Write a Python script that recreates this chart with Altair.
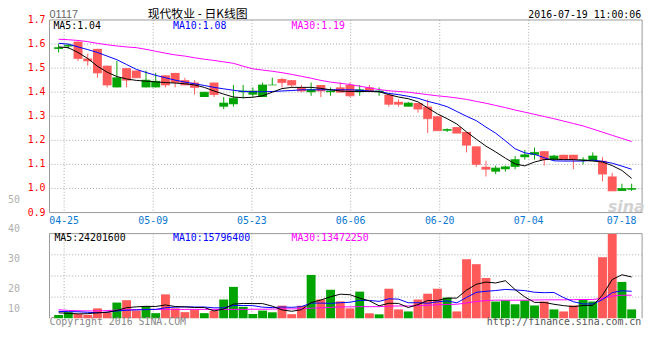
import altair as alt
import pandas as pd

# ---------------- data ----------------
day_index = list(range(60))  # 2016-04-22 ... 2016-07-19 (trading days)

open_ = [1.58, 1.59, 1.61, 1.54, 1.58, 1.51, 1.42, 1.50, 1.49, 1.42,
         1.42, 1.47, 1.48, 1.45, 1.44, 1.38, 1.44, 1.34, 1.35, 1.40,
         1.39, 1.38, 1.43, 1.455, 1.45, 1.42, 1.40, 1.43, 1.40, 1.42,
         1.43, 1.40, 1.42, 1.40, 1.39, 1.36, 1.34, 1.355, 1.34, 1.30,
         1.24, 1.255, 1.235, 1.175, 1.09, 1.07, 1.08, 1.09, 1.13, 1.14,
         1.155, 1.12, 1.14, 1.14, 1.12, 1.115, 1.115, 1.05, 0.99, 0.995]
high = [1.60, 1.60, 1.61, 1.56, 1.58, 1.51, 1.53, 1.50, 1.49, 1.49,
        1.48, 1.47, 1.48, 1.46, 1.45, 1.40, 1.44, 1.38, 1.43, 1.43,
        1.42, 1.44, 1.46, 1.46, 1.45, 1.43, 1.44, 1.43, 1.42, 1.44,
        1.44, 1.43, 1.43, 1.42, 1.39, 1.37, 1.36, 1.355, 1.37, 1.30,
        1.25, 1.255, 1.235, 1.175, 1.115, 1.095, 1.095, 1.135, 1.16, 1.17,
        1.155, 1.14, 1.14, 1.14, 1.13, 1.15, 1.13, 1.065, 1.02, 1.02]
low = [1.565, 1.58, 1.53, 1.51, 1.46, 1.42, 1.42, 1.42, 1.46, 1.42,
       1.42, 1.42, 1.42, 1.43, 1.39, 1.38, 1.38, 1.33, 1.34, 1.375,
       1.38, 1.38, 1.43, 1.42, 1.42, 1.40, 1.385, 1.38, 1.385, 1.40,
       1.38, 1.385, 1.40, 1.385, 1.34, 1.34, 1.34, 1.315, 1.23, 1.24,
       1.235, 1.23, 1.15, 1.09, 1.05, 1.06, 1.07, 1.08, 1.12, 1.12,
       1.095, 1.115, 1.12, 1.08, 1.10, 1.115, 1.03, 0.99, 0.99, 0.99]
close = [1.585, 1.595, 1.54, 1.53, 1.48, 1.43, 1.46, 1.45, 1.46, 1.45,
         1.445, 1.43, 1.44, 1.43, 1.42, 1.40, 1.39, 1.355, 1.375, 1.405,
         1.405, 1.43, 1.43, 1.44, 1.43, 1.405, 1.41, 1.405, 1.405, 1.40,
         1.385, 1.41, 1.405, 1.405, 1.35, 1.35, 1.355, 1.33, 1.29, 1.24,
         1.245, 1.23, 1.18, 1.10, 1.08, 1.085, 1.09, 1.12, 1.14, 1.15,
         1.12, 1.135, 1.12, 1.12, 1.12, 1.135, 1.06, 0.99, 1.00, 1.00]
ma5 = [1.588, 1.585, 1.565, 1.54, 1.508, 1.483, 1.465, 1.455, 1.449, 1.446,
       1.443, 1.44, 1.438, 1.435, 1.43, 1.42, 1.405, 1.392, 1.38, 1.377,
       1.379, 1.385, 1.40, 1.415, 1.42, 1.42, 1.42, 1.416, 1.41, 1.405,
       1.403, 1.403, 1.403, 1.402, 1.39, 1.38, 1.373, 1.36, 1.335, 1.31,
       1.29, 1.268, 1.235, 1.205, 1.176, 1.152, 1.126, 1.102, 1.094, 1.11,
       1.12, 1.122, 1.12, 1.12, 1.117, 1.114, 1.11, 1.095, 1.075, 1.042]
ma10 = [1.603, 1.60, 1.588, 1.577, 1.565, 1.55, 1.535, 1.515, 1.495, 1.482,
        1.47, 1.46, 1.45, 1.442, 1.435, 1.428, 1.42, 1.414, 1.408, 1.403,
        1.402, 1.402, 1.403, 1.405, 1.407, 1.41, 1.41, 1.41, 1.41, 1.41,
        1.41, 1.408, 1.405, 1.403, 1.395, 1.39, 1.383, 1.375, 1.362, 1.352,
        1.34, 1.32, 1.30, 1.282, 1.255, 1.23, 1.198, 1.165, 1.148, 1.142,
        1.128, 1.115, 1.114, 1.114, 1.114, 1.118, 1.113, 1.105, 1.093, 1.08]
ma30 = [1.62, 1.618, 1.615, 1.61, 1.603, 1.597, 1.592, 1.588, 1.585, 1.578,
        1.57, 1.562, 1.555, 1.55, 1.543, 1.537, 1.532, 1.526, 1.52, 1.508,
        1.497, 1.492, 1.487, 1.481, 1.474, 1.466, 1.458, 1.449, 1.442, 1.437,
        1.432, 1.425, 1.418, 1.411, 1.406, 1.403, 1.40, 1.395, 1.39, 1.385,
        1.381, 1.376, 1.37, 1.362, 1.354, 1.345, 1.336, 1.326, 1.317, 1.308,
        1.299, 1.29, 1.28, 1.27, 1.26, 1.247, 1.234, 1.221, 1.208, 1.195]

# volume in millions of shares
volume = [1.9, 3.6, 2.5, 2.0, 5.8, 3.5, 9.2, 10.6, 4.5, 7.0,
          3.0, 14.0, 5.8, 3.6, 5.0, 3.0, 4.3, 11.0, 18.4, 6.7,
          2.5, 4.5, 3.5, 7.4, 2.4, 7.4, 25.4, 11.0, 16.7, 9.9,
          5.8, 15.6, 2.9, 2.3, 17.3, 5.2, 4.0, 11.0, 14.4, 17.3,
          12.1, 4.0, 34.6, 31.7, 23.6, 9.8, 10.5, 8.2, 10.5, 7.5,
          9.8, 5.2, 4.0, 7.5, 11.0, 9.8, 35.8, 49.4, 21.3, 5.2]
vma5 = [3.2, 2.9, 2.6, 2.7, 3.2, 3.5, 4.6, 6.2, 6.7, 7.0,
        6.9, 7.8, 6.9, 6.7, 6.3, 6.3, 4.3, 5.4, 8.3, 8.7,
        8.6, 8.6, 7.1, 4.9, 4.1, 5.0, 9.2, 10.7, 12.6, 14.1,
        13.8, 11.8, 10.2, 7.3, 8.8, 8.7, 6.3, 8.0, 10.4, 10.4,
        11.8, 11.8, 16.5, 19.9, 21.2, 20.7, 22.0, 16.8, 12.5, 9.3,
        9.3, 8.2, 7.4, 6.8, 7.5, 7.5, 13.6, 22.7, 25.5, 24.2]
vma10 = [4.0, 3.9, 3.8, 3.5, 3.2, 3.6, 4.3, 4.7, 4.9, 5.1,
         5.2, 6.2, 6.5, 6.7, 6.6, 6.6, 6.1, 6.1, 7.5, 7.5,
         7.4, 6.5, 6.25, 6.6, 6.4, 6.8, 8.9, 8.9, 8.75, 9.1,
         9.4, 10.5, 10.45, 9.9, 11.4, 11.2, 9.1, 9.1, 8.8, 9.6,
         10.2, 9.05, 12.2, 15.2, 15.8, 16.25, 16.9, 16.6, 16.2, 15.25,
         15.0, 15.1, 12.1, 9.7, 8.4, 8.4, 10.9, 15.05, 16.1, 15.8]
vma30 = [5.0, 4.6, 4.4, 4.3, 4.3, 4.5, 4.8, 5.0, 5.1, 5.2,
         5.2, 5.2, 5.2, 5.2, 5.2, 5.2, 5.2, 5.2, 5.2, 5.2,
         5.3, 5.3, 5.4, 5.5, 5.5, 5.6, 5.9, 6.1, 6.4, 6.6,
         6.7, 6.8, 6.8, 6.8, 7.1, 7.2, 7.2, 7.4, 7.6, 7.9,
         8.1, 8.2, 9.0, 9.8, 10.4, 10.6, 10.6, 10.6, 10.6, 10.7,
         10.8, 10.8, 10.8, 10.9, 11.0, 11.0, 11.7, 13.0, 13.5, 13.5]

price_ticks = [1.7, 1.6, 1.5, 1.4, 1.3, 1.2, 1.1, 1.0, 0.9]
price_tick_labels = ["1.7", "1.6", "1.5", "1.4", "1.3", "1.2", "1.1", "1.0", "0.9"]
price_grid = [1.6, 1.5, 1.4, 1.3, 1.2, 1.1, 1.0]
vol_grid = [12.4, 24.8, 37.2]
date_grid_pos = [0.57, 9.74, 19.9, 30.07, 39.24, 48.4]
date_labels = ["04-25", "05-09", "05-23", "06-06", "06-20", "07-04", "07-18"]
date_label_pos = [0.57, 9.74, 19.9, 30.07, 39.24, 48.4, 57.97]
side_labels = ["50", "40", "30", "20", "10"]
side_label_y = [182, 212, 242.5, 272.5, 293]

# ---------------- styling ----------------
RED = "#ff5a5a"
GREEN = "#00a400"
GRID = "#aaaaaa"
FRAME = "#999999"
MONO = "DejaVu Sans Mono"
W = 600
PRICE_BOTTOM = 195
VOL_TOP = 216.3
VOL_BOTTOM = 302

df = pd.DataFrame({"i": day_index, "open": open_, "high": high, "low": low,
                   "close": close, "ma5": ma5, "ma10": ma10, "ma30": ma30,
                   "vol": volume, "vma5": vma5, "vma10": vma10, "vma30": vma30})
df["dir"] = ["up" if c >= o else "down" for o, c in zip(open_, close)]

one = pd.DataFrame({"k": [0]})  # single row for static marks

xs = alt.Scale(domain=[-0.43, 59.57], nice=False, zero=False)
ps = alt.Scale(domain=[0.9, 1.7], range=[PRICE_BOTTOM, 0], nice=False, zero=False)
vs = alt.Scale(domain=[0, 49.6], range=[VOL_BOTTOM, VOL_TOP], nice=False, zero=False)
col = alt.Color("dir:N", scale=alt.Scale(domain=["up", "down"], range=[GREEN, RED]), legend=None)

X = alt.X("i:Q", scale=xs, axis=None)
base = alt.Chart(df)

layers = []

# grid lines
pg = pd.DataFrame({"p": price_grid})
layers.append(alt.Chart(pg).mark_rule(color=GRID, strokeDash=[1, 2], strokeWidth=1).encode(
    y=alt.Y("p:Q", scale=ps, axis=None)))
vg = pd.DataFrame({"v": vol_grid})
layers.append(alt.Chart(vg).mark_rule(color=GRID, strokeDash=[1, 2], strokeWidth=1).encode(
    y=alt.Y("v:Q", scale=vs, axis=None)))
dg = pd.DataFrame({"pos": date_grid_pos})
layers.append(alt.Chart(dg).mark_rule(color=GRID, strokeDash=[1, 2], strokeWidth=1).encode(
    x=alt.X("pos:Q", scale=xs, axis=None), y=alt.value(0), y2=alt.value(PRICE_BOTTOM)))
layers.append(alt.Chart(dg).mark_rule(color=GRID, strokeDash=[1, 2], strokeWidth=1).encode(
    x=alt.X("pos:Q", scale=xs, axis=None), y=alt.value(VOL_TOP), y2=alt.value(VOL_BOTTOM)))

# frames
layers.append(alt.Chart(one).mark_rect(fillOpacity=0, stroke=FRAME, strokeWidth=1).encode(
    x=alt.value(0), x2=alt.value(W), y=alt.value(0), y2=alt.value(PRICE_BOTTOM)))
layers.append(alt.Chart(one).mark_rule(color=FRAME, strokeWidth=1).encode(
    x=alt.value(0), x2=alt.value(W), y=alt.value(VOL_TOP)))
layers.append(alt.Chart(one).mark_rule(color=FRAME, strokeWidth=1).encode(
    x=alt.value(0), y=alt.value(VOL_TOP), y2=alt.value(VOL_BOTTOM)))
layers.append(alt.Chart(one).mark_rule(color=FRAME, strokeWidth=1).encode(
    x=alt.value(W), y=alt.value(VOL_TOP), y2=alt.value(VOL_BOTTOM)))

# sina watermark
layers.append(alt.Chart(one).mark_text(text="sina", font="DejaVu Sans", fontSize=16, fontStyle="italic",
                                       fontWeight="bold", color="#d2d2d2", align="center").encode(
    x=alt.value(584), y=alt.value(189)))

# volume bars + volume MA lines
layers.append(base.mark_bar(size=9).encode(x=X, y=alt.Y("vol:Q", scale=vs, axis=None), color=col))
for fld, c in [("vma30", "#ff00ff"), ("vma10", "#0000ff"), ("vma5", "#000000")]:
    layers.append(base.mark_line(color=c, strokeWidth=1).encode(
        x=X, y=alt.Y(f"{fld}:Q", scale=vs, axis=None)))

# candles
layers.append(base.mark_rule(strokeWidth=1).encode(
    x=X, y=alt.Y("low:Q", scale=ps, axis=None), y2="high:Q", color=col))
layers.append(base.mark_bar(size=9).encode(
    x=X, y=alt.Y("open:Q", scale=ps, axis=None), y2="close:Q", color=col))
layers.append(base.mark_tick(orient="horizontal", size=9, thickness=1).encode(
    x=X, y=alt.Y("close:Q", scale=ps, axis=None), color=col))

# price MA lines
for fld, c in [("ma30", "#ff00ff"), ("ma10", "#0000ff"), ("ma5", "#000000")]:
    layers.append(base.mark_line(color=c, strokeWidth=1).encode(
        x=X, y=alt.Y(f"{fld}:Q", scale=ps, axis=None)))

# price axis labels
pl = pd.DataFrame({"p": price_ticks, "lab": price_tick_labels})
layers.append(alt.Chart(pl).mark_text(align="right", baseline="middle", color="#ff0000",
                                      font=MONO, fontSize=10).encode(
    y=alt.Y("p:Q", scale=ps, axis=None), x=alt.value(-4), text="lab:N"))

# date labels
dl = pd.DataFrame({"pos": date_label_pos, "lab": date_labels})
layers.append(alt.Chart(dl).mark_text(align="center", baseline="alphabetic", color="#0a78d2",
                                      font=MONO, fontSize=10).encode(
    x=alt.X("pos:Q", scale=xs, axis=None), y=alt.value(206.5), text="lab:N"))

# faint left labels
for lab, yy in zip(side_labels, side_label_y):
    layers.append(alt.Chart(one).mark_text(text=lab, align="left", baseline="middle", color="#b0b0b0",
                                           font=MONO, fontSize=10).encode(
        x=alt.value(-42), y=alt.value(yy)))


def txt(s, x, y, color, align="left", font=MONO, size=10):
    return alt.Chart(one).mark_text(text=s, align=align, baseline="alphabetic", color=color,
                                    font=font, fontSize=size).encode(x=alt.value(x), y=alt.value(y))


layers += [
    txt("01117", 0, -2, "#666666", font="Liberation Sans", size=11),
    txt("现代牧业 - 日K线图", 150, -2.5, "#000000", align="center", font="Noto Sans CJK SC", size=12),
    txt("2016-07-19 11:00:06", 599, -2.5, "#000000", align="right"),
    txt("MA5:1.04", 4, 9.5, "#000000"),
    txt("MA10:1.08", 125, 9.5, "#0000ff"),
    txt("MA30:1.19", 245, 9.5, "#ff00ff"),
    txt("MA5:24201600", 5, 224, "#000000"),
    txt("MA10:15796400", 125, 224, "#0000ff"),
    txt("MA30:13472250", 245, 224, "#ff00ff"),
    txt("Copyright 2016 SINA.COM", 0, 308.5, "#888888"),
    txt("http://finance.sina.com.cn", 599, 309, "#555555", align="right"),
]

chart = alt.layer(*layers).resolve_scale(y="independent").properties(
    width=W, height=VOL_BOTTOM,
    padding={"left": 42, "top": 10, "right": 10, "bottom": 30},
    autosize=alt.AutoSizeParams(type="none"),
    background="white",
).configure_view(strokeWidth=0)

chart.save("out.html", embed_options={"renderer": "svg", "actions": False})
